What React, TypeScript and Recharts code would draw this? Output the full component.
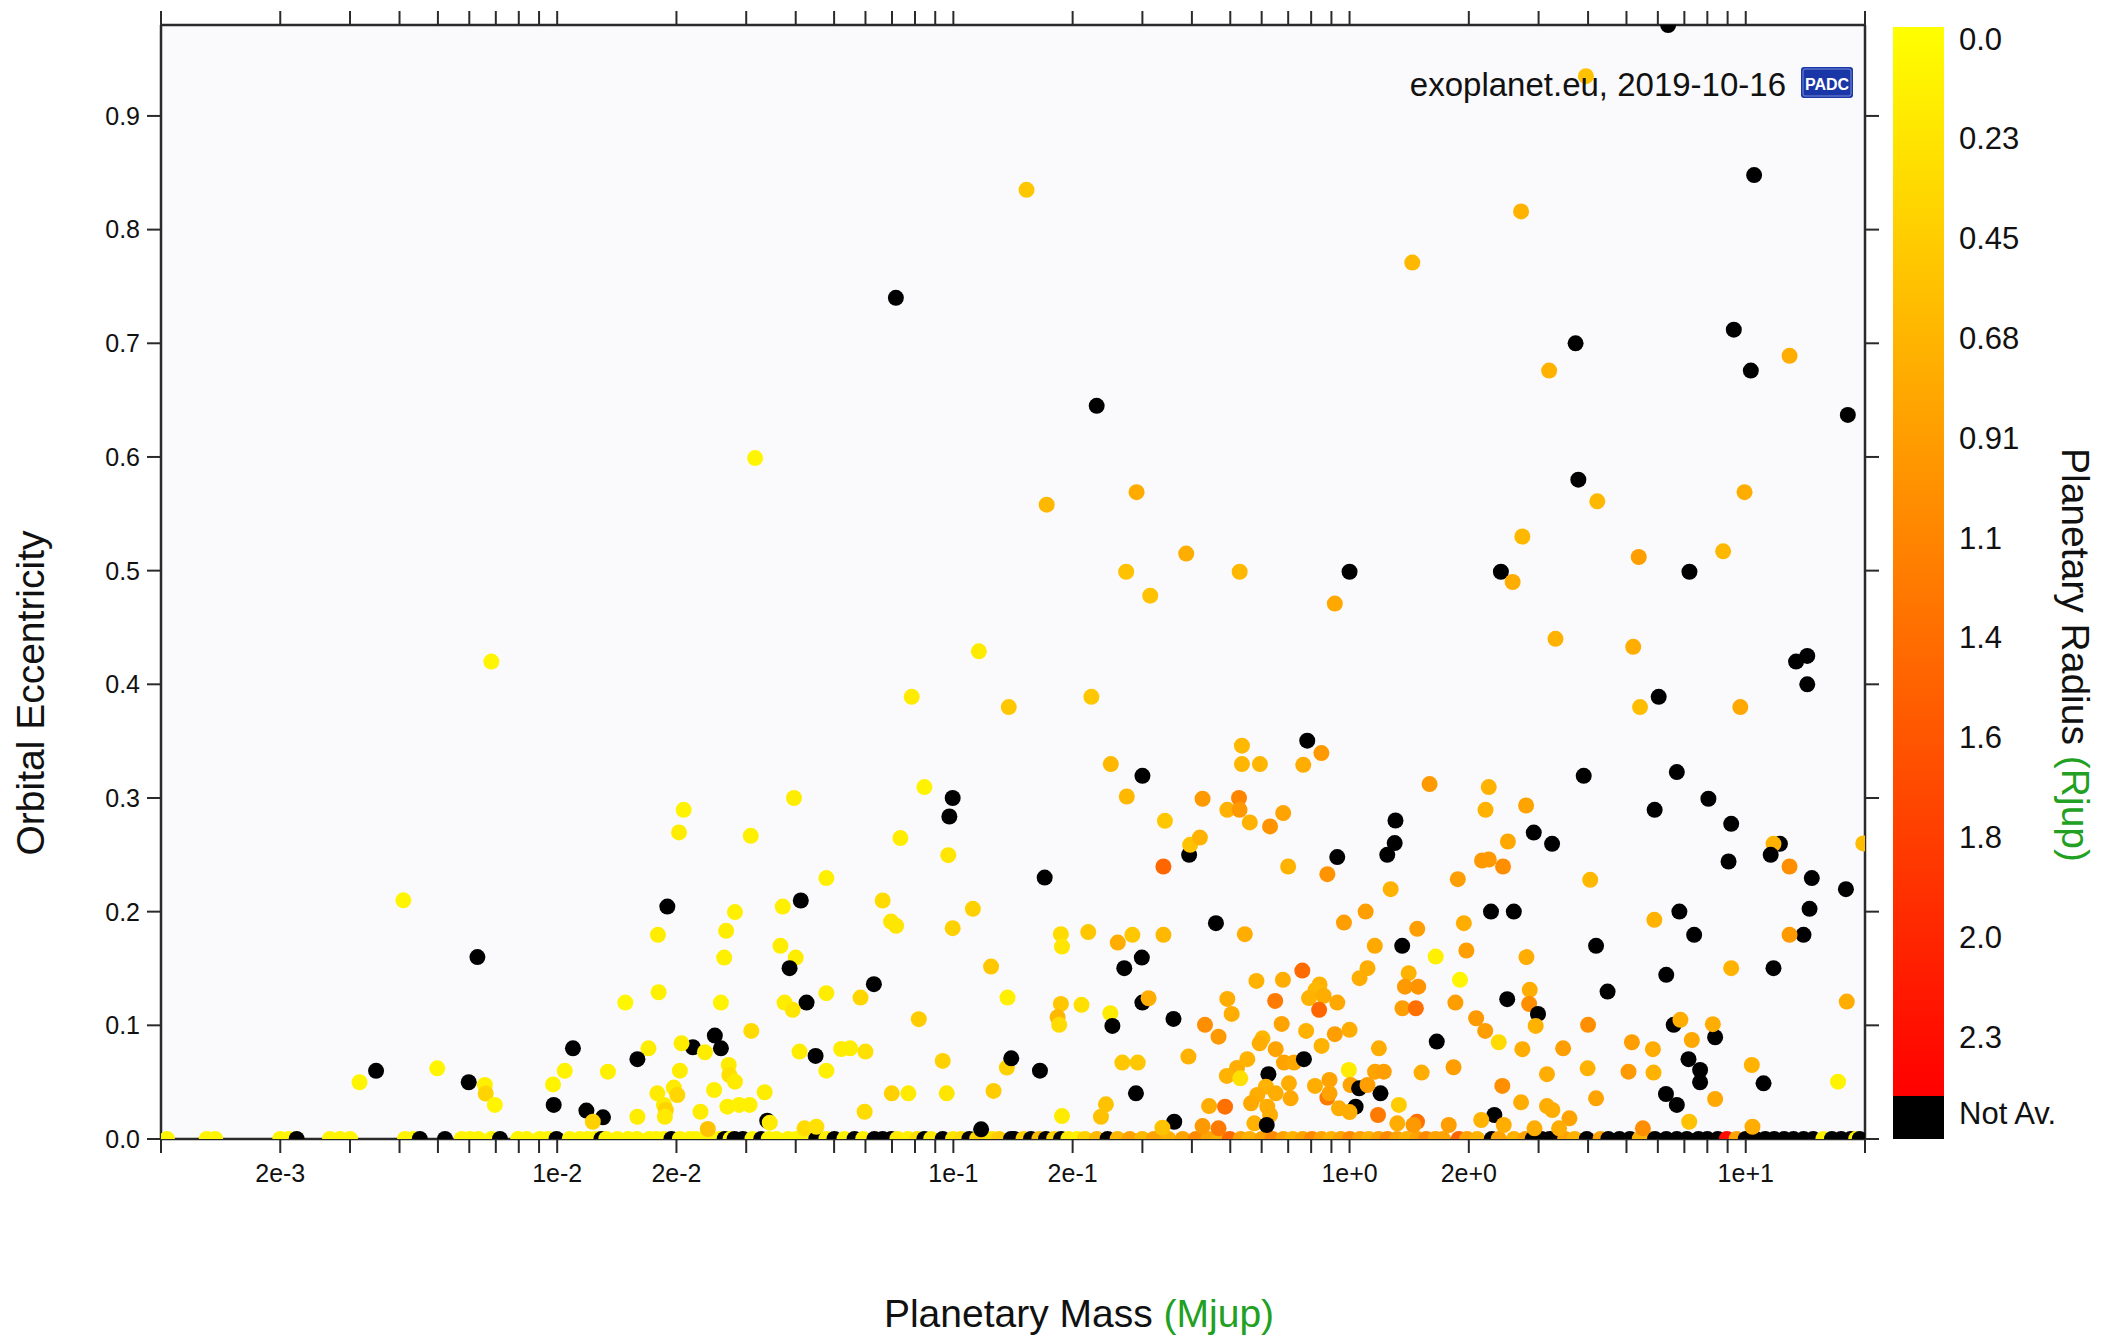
import React from 'react';
import { ScatterChart, Scatter, XAxis, YAxis, CartesianGrid } from 'recharts';

// Each planet: [mass (Mjup), orbital eccentricity, radius (Rjup) or null when not available]
type Planet = [number, number, number | null];

// Planets on circular orbits (e = 0): [mass, radius]
const circularOrbits: [number, number | null][] = [
  [0.001035, 0.1], [0.001305, 0.1], [0.00137, 0.1], [0.002, 0.1], [0.0021, 0.1], [0.0022, null],
  [0.00267, 0.1], [0.00283, 0.1], [0.003, 0.1], [0.00413, 0.1], [0.00433, 0.1], [0.0045, null],
  [0.00521, null], [0.00574, 0.1], [0.00602, 0.1], [0.00632, 0.1], [0.00683, 0.1], [0.00717, null],
  [0.00797, 0.1], [0.00837, 0.1], [0.00904, 0.1], [0.00949, 0.1], [0.00996, null], [0.01076, 0.1],
  [0.0114, 0.1], [0.01196, 0.1],
  [0.0125, 0.1], [0.01293, null], [0.0133, 0.12], [0.0142, 0.12], [0.0151, 0.1], [0.0159, 0.12],
  [0.0171, 0.1], [0.0178, 0.12], [0.0186, 0.1], [0.01942, null], [0.0204, 0.12], [0.0216, 0.1],
  [0.0224, 0.12], [0.0236, 0.1], [0.0244, 0.12], [0.0257, 0.1], [0.02646, null], [0.0274, 0.12],
  [0.02804, null], [0.02942, null], [0.0311, 0.1], [0.03274, null], [0.0342, 0.12], [0.0358, 0.1],
  [0.0383, 0.12], [0.0401, 0.1], [0.0419, 0.15], [0.04506, null], [0.0478, 0.12], [0.0501, null],
  [0.0531, 0.1], [0.0563, null], [0.0592, 0.15], [0.0632, null], [0.0663, null], [0.0697, null],
  [0.0722, 0.2], [0.0768, 0.15], [0.0811, 0.3], [0.0845, null], [0.0879, 0.2], [0.094, null],
  [0.0998, 0.25], [0.1046, 0.35], [0.1097, null], [0.1148, 0.4], [0.1183, 0.45], [0.1252, 0.3],
  [0.1304, 0.5], [0.1398, null],
  [0.1425, null], [0.1503, 0.45], [0.157, null], [0.1648, 0.7], [0.1713, null], [0.1796, 0.45],
  [0.187, null], [0.1951, 0.2], [0.2058, 0.15], [0.2149, 0.45], [0.2302, 0.7], [0.245, null],
  [0.2597, 0.7], [0.2788, 0.9], [0.2996, 0.7], [0.3207, 0.9], [0.3488, 0.75], [0.3791, 0.9],
  [0.4093, 1.15], [0.4402, 0.9], [0.4688, 0.75], [0.4985, 1.45], [0.5312, 0.9], [0.5596, 0.75],
  [0.6013, 0.9], [0.6388, 1.15], [0.6804, 0.9], [0.7192, 0.75], [0.7617, 0.9], [0.8034, 1.15],
  [0.8491, 0.9], [0.8987, 0.75], [0.9508, 0.9], [1.002, 1.15], [1.063, 0.9], [1.118, 0.75],
  [1.184, 0.9], [1.247, 1.15], [1.318, 0.9], [1.396, 0.75], [1.483, 0.9], [1.561, 1.15], [1.648, 0.9],
  [1.72, 0.9], [1.887, 1.5], [1.98, 0.9], [2.1, 0.75], [2.286, null], [2.38, 0.9], [2.6, 0.75],
  [2.78, 0.9], [2.9, null], [3.05, null], [3.2, null], [3.4, null], [3.5, 0.9], [3.7, 0.75],
  [3.97, null], [4.3, 0.9], [4.5, null], [4.8, null], [5.1, null], [5.4, 0.75], [5.7, 0.75],
  [5.9, null], [6.3, null], [6.7, null], [7.1, null], [7.6, null], [8.0, null], [8.5, null],
  [8.96, 2.4], [9.48, 0.9], [10.0, null], [10.6, null], [11.2, null], [11.8, null], [12.5, null],
  [13.2, null], [14.0, null], [14.8, null], [15.7, 0.15], [16.5, null], [17.4, null], [18.4, null],
  [19.0, 0.15], [19.4, null],
];

// Low-mass planets (below ~0.14 Mjup) on eccentric orbits
const lowMassPlanets: Planet[] = [
  [0.00409, 0.21, 0.1], [0.00629, 0.16, null], [0.01096, 0.0798, null], [0.00317, 0.0499, 0.1],
  [0.00349, 0.06, null], [0.00498, 0.0622, 0.1], [0.00598, 0.0499, null], [0.00657, 0.0475, 0.15],
  [0.0066, 0.04, 0.42], [0.00696, 0.03, 0.1], [0.00976, 0.048, 0.12], [0.01045, 0.06, 0.12],
  [0.0098, 0.03, null], [0.01185, 0.025, null],
  [0.0845, 0.3096, 0.12], [0.0996, 0.3, null], [0.0977, 0.2837, null], [0.02086, 0.2896, 0.12],
  [0.0203, 0.2697, 0.18], [0.0396, 0.3, 0.18], [0.0308, 0.2667, 0.15], [0.0735, 0.2647, 0.18],
  [0.0971, 0.2497, 0.25], [0.0478, 0.2295, 0.15], [0.01897, 0.2045, null], [0.0412, 0.2098, null],
  [0.0371, 0.2045, 0.15], [0.0281, 0.1996, 0.15], [0.0267, 0.1831, 0.18], [0.01796, 0.1796, 0.18],
  [0.0264, 0.1596, 0.15], [0.0366, 0.1699, 0.18], [0.04, 0.1596, 0.18], [0.0386, 0.1503, null],
  [0.0663, 0.2098, 0.35], [0.0696, 0.1913, 0.25], [0.0717, 0.1875, 0.25], [0.112, 0.2025, 0.45],
  [0.0996, 0.1855, 0.45], [0.1245, 0.1517, 0.55], [0.137, 0.1244, 0.15], [0.063, 0.1362, null],
  [0.0583, 0.1244, 0.4], [0.0478, 0.1283, 0.18], [0.0426, 0.12, null], [0.0375, 0.12, 0.18],
  [0.0393, 0.1136, 0.25], [0.0818, 0.1054, 0.5], [0.01486, 0.12, 0.08], [0.01803, 0.1291, 0.15],
  [0.0259, 0.12, 0.12], [0.0309, 0.0951, 0.35], [0.025, 0.091, null], [0.0259, 0.0798, null],
  [0.022, 0.0807, null], [0.0206, 0.0842, 0.18], [0.0236, 0.0763, 0.18], [0.017, 0.0798, 0.18],
  [0.01594, 0.0702, null], [0.01343, 0.0592, 0.15], [0.0204, 0.0601, 0.18], [0.0271, 0.0651, 0.2],
  [0.0272, 0.0563, 0.3], [0.0281, 0.0504, 0.2], [0.0409, 0.0769, 0.18], [0.0449, 0.0731, null],
  [0.0478, 0.0601, 0.15], [0.0521, 0.0792, 0.18], [0.0549, 0.0798, 0.18], [0.06, 0.0769, 0.3],
  [0.094, 0.0687, 0.45], [0.1365, 0.0628, 0.45], [0.0179, 0.0402, 0.2], [0.0197, 0.0452, 0.2],
  [0.0201, 0.0387, 0.4], [0.0186, 0.03, 0.2], [0.0188, 0.0255, 0.42], [0.0187, 0.0196, 0.2],
  [0.0249, 0.0431, 0.15], [0.023, 0.024, 0.18], [0.01594, 0.0196, 0.18], [0.0334, 0.0411, 0.18],
  [0.0269, 0.0284, 0.15], [0.0288, 0.03, 0.15], [0.0306, 0.03, 0.15], [0.0339, 0.0161, null],
  [0.0344, 0.0144, 0.2], [0.024, 0.0088, 0.6], [0.01305, 0.0191, null], [0.0123, 0.0152, 0.45],
  [0.0699, 0.0402, 0.45], [0.077, 0.0402, 0.2], [0.0962, 0.0402, 0.25], [0.1263, 0.0423, 0.5],
  [0.0597, 0.024, 0.35], [0.0421, 0.0094, 0.35], [0.0451, 0.0108, 0.3], [0.1175, 0.0085, null],
  [0.14, 0.071, null],
];

// Saturn- to Jupiter-mass planets (~0.14 to 1.7 Mjup)
const giantPlanets: Planet[] = [
  [0.2497, 0.3298, 0.7], [0.3001, 0.3195, null], [0.274, 0.3013, 0.7], [0.342, 0.2799, 0.55],
  [0.4256, 0.2993, 1.0], [0.526, 0.3, 1.2], [0.4915, 0.2896, 0.75], [0.5276, 0.2896, 1.0],
  [0.56, 0.2785, 0.75], [0.63, 0.275, 1.05], [0.68, 0.2867, 0.9], [0.535, 0.346, 0.7],
  [0.535, 0.3298, 0.72], [0.594, 0.3298, 0.72], [0.782, 0.3504, null], [0.849, 0.3395, 1.0],
  [0.764, 0.3292, 0.8], [1.592, 0.3122, 1.0], [1.306, 0.2802, null], [1.3, 0.2603, null],
  [1.245, 0.25, null], [0.931, 0.248, null], [0.879, 0.233, 1.05], [0.7, 0.2397, 0.75],
  [0.17, 0.23, null], [0.3936, 0.25, null], [0.396, 0.2588, 0.6], [0.419, 0.2652, 0.75],
  [0.339, 0.2397, 1.5], [1.27, 0.2198, 0.75], [1.098, 0.2001, 0.95], [0.968, 0.1904, 0.95],
  [1.482, 0.1849, 0.95], [1.158, 0.1699, 0.85], [1.358, 0.1699, null], [0.46, 0.1899, null],
  [0.544, 0.1802, 0.8], [0.1868, 0.1802, 0.35], [0.188, 0.1693, 0.25], [0.219, 0.182, 0.55],
  [0.283, 0.1796, 0.55], [0.26, 0.1728, 0.8], [0.339, 0.1796, 0.7], [0.299, 0.1596, null],
  [0.27, 0.1503, null], [0.1868, 0.1188, 0.55], [0.1833, 0.1071, 0.7], [0.185, 0.1004, 0.35],
  [0.2106, 0.118, 0.3], [0.249, 0.1106, 0.2], [0.252, 0.0995, null], [0.3, 0.12, null],
  [0.311, 0.1238, 0.8], [0.3594, 0.1056, null], [0.1654, 0.0601, null], [0.267, 0.0672, 0.55],
  [0.292, 0.0672, 0.55], [0.289, 0.0402, null], [0.2427, 0.0305, 0.6], [0.2358, 0.0196, 0.6],
  [0.188, 0.0202, 0.2], [0.392, 0.0725, 0.75], [0.361, 0.0152, null], [0.337, 0.01, 0.6],
  [0.4316, 0.1004, 1.1], [0.467, 0.09, 1.0], [0.4915, 0.1232, 0.8], [0.504, 0.11, 0.8],
  [0.582, 0.1391, 0.75], [0.679, 0.14, 0.8], [0.76, 0.1482, 1.45], [0.84, 0.136, 0.75],
  [0.82, 0.131, 0.7], [0.86, 0.126, 0.8], [0.79, 0.124, 0.75], [0.649, 0.1215, 1.3],
  [0.838, 0.1136, 1.5], [0.931, 0.12, 0.85], [0.674, 0.1012, 0.9], [0.777, 0.0951, 0.75],
  [0.918, 0.0922, 0.95], [1.0, 0.096, 0.8], [0.85, 0.0819, 0.75], [0.603, 0.0886, 0.7],
  [0.593, 0.0842, 0.8], [0.651, 0.079, 0.9], [0.683, 0.0672, 0.9], [0.724, 0.0672, 0.85],
  [0.767, 0.0702, null], [0.52, 0.0625, 0.8], [0.49, 0.0555, 0.75], [0.53, 0.0534, 0.3],
  [0.552, 0.0702, 0.75], [0.624, 0.057, null], [0.615, 0.046, 0.75], [0.651, 0.0402, 0.8],
  [0.585, 0.0387, 0.8], [0.564, 0.0314, 0.85], [0.62, 0.0284, 0.8], [0.575, 0.0138, 0.75],
  [0.63, 0.0211, 0.8], [0.618, 0.0123, null], [0.442, 0.029, 0.8], [0.485, 0.0284, 1.4],
  [0.4256, 0.0114, 1.0], [0.467, 0.0094, 1.3], [0.703, 0.049, 0.8], [0.71, 0.0358, 0.85],
  [0.818, 0.0467, 0.8], [0.879, 0.0364, 1.3], [0.89, 0.0402, 0.9], [0.89, 0.052, 0.9],
  [0.996, 0.0607, 0.2], [1.006, 0.0475, 0.9], [1.057, 0.0446, null], [1.036, 0.0284, null],
  [1.197, 0.0402, null], [1.186, 0.0798, 0.8], [1.16, 0.0592, 0.9], [1.22, 0.0592, 0.95],
  [1.11, 0.0475, 0.95], [0.94, 0.027, 0.8], [1.0, 0.0237, 0.8], [1.18, 0.0211, 1.3],
  [1.332, 0.03, 0.5], [1.52, 0.0584, 0.8], [1.48, 0.0152, 1.4], [1.32, 0.0138, 0.8],
  [1.45, 0.0123, 1.0], [1.66, 0.0857, null], [1.65, 0.1605, 0.15], [1.41, 0.1459, 0.75],
  [1.38, 0.134, 1.0], [1.49, 0.134, 1.05], [1.36, 0.115, 0.95], [1.47, 0.115, 1.4],
  [1.11, 0.1503, 0.8], [1.06, 0.1415, 0.8],
];

// Super-Jupiters (above ~1.7 Mjup) at low and moderate eccentricity
const massivePlanets: Planet[] = [
  [2.246, 0.3096, 0.75], [2.204, 0.2896, 0.75], [2.79, 0.2934, 0.9], [3.9, 0.3195, null],
  [6.7, 0.3228, null], [5.89, 0.2896, null], [8.05, 0.2993, null], [9.19, 0.2773, null],
  [2.917, 0.2696, null], [3.245, 0.2597, null], [2.51, 0.2617, 0.85], [2.16, 0.245, 1.0],
  [2.246, 0.2459, 1.0], [2.44, 0.2397, 1.1], [1.876, 0.2286, 0.95], [4.05, 0.228, 0.7],
  [9.05, 0.2441, null], [12.2, 0.2597, null], [11.75, 0.2597, 0.75], [11.56, 0.25, null],
  [12.9, 0.2397, 1.1], [14.68, 0.2295, null], [17.9, 0.2198, null], [14.49, 0.2025, null],
  [13.99, 0.1796, null], [12.9, 0.1796, 1.0], [2.275, 0.2001, null], [2.598, 0.2001, null],
  [1.943, 0.1899, 0.8], [1.972, 0.1658, 0.95], [2.796, 0.16, 0.8], [5.88, 0.1928, 0.75],
  [6.8, 0.2001, null], [7.41, 0.1796, null], [4.19, 0.1699, null], [9.19, 0.1503, 0.75],
  [11.75, 0.1503, null], [6.3, 0.1444, null], [4.48, 0.1297, null], [1.9, 0.14, 0.1],
  [1.85, 0.12, 0.95], [2.5, 0.123, null], [2.85, 0.1312, 0.8], [2.84, 0.1188, 1.1],
  [2.99, 0.11, null], [2.95, 0.0995, 0.75], [2.087, 0.1062, 1.0], [2.2, 0.0951, 0.95],
  [2.38, 0.0851, 0.35], [2.73, 0.079, 0.8], [3.46, 0.0798, 0.95], [4.0, 0.1004, 1.1],
  [6.58, 0.1004, null], [6.84, 0.1048, 0.8], [8.37, 0.0895, null], [8.26, 0.101, 0.8],
  [7.31, 0.0871, 0.85], [5.16, 0.0851, 0.95], [5.83, 0.079, 0.8], [7.17, 0.0702, null],
  [7.67, 0.0607, null], [7.67, 0.0499, null], [5.85, 0.0584, 0.75], [5.06, 0.0592, 1.0],
  [3.99, 0.0622, 0.75], [3.15, 0.057, 0.8], [1.83, 0.0631, 0.95], [2.43, 0.0467, 1.1],
  [2.71, 0.0323, 0.8], [3.15, 0.029, 0.8], [3.25, 0.0255, 0.8], [3.59, 0.0182, 0.9],
  [4.19, 0.0358, 0.9], [6.29, 0.0396, null], [6.7, 0.03, null], [8.37, 0.0352, 0.85],
  [7.2, 0.0152, 0.6], [10.36, 0.0651, 0.75], [11.09, 0.049, null], [17.99, 0.1209, 0.8],
  [17.1, 0.0504, 0.12], [2.32, 0.0211, null], [2.15, 0.0167, 0.75], [1.78, 0.0123, 0.95],
  [2.45, 0.0123, 0.8], [2.93, 0.0094, 0.8], [3.38, 0.0094, 0.8], [5.5, 0.0094, 1.1],
  [10.4, 0.0108, 0.8],
];

// Highly eccentric orbits (e above ~0.38)
const eccentricPlanets: Planet[] = [
  [0.153, 0.835, 0.55], [0.0716, 0.74, null], [0.23, 0.645, null], [10.5, 0.848, null],
  [6.37, 0.98, null], [3.95, 0.935, 0.6], [2.71, 0.816, 0.75], [1.44, 0.771, 0.7],
  [3.72, 0.7, null], [3.19, 0.676, 0.75], [9.33, 0.712, null], [10.3, 0.676, null],
  [12.9, 0.689, 0.8], [18.1, 0.637, null], [0.0316, 0.599, 0.1], [0.172, 0.558, 0.7],
  [0.29, 0.569, 0.82], [0.273, 0.499, 0.6], [0.314, 0.478, 0.6], [0.387, 0.515, 0.8],
  [0.528, 0.499, 0.7], [0.918, 0.471, 0.85], [1.0, 0.499, null], [2.41, 0.499, null],
  [2.73, 0.53, 0.7], [2.58, 0.49, 0.8], [3.78, 0.58, null], [4.22, 0.561, 0.7],
  [9.93, 0.569, 0.8], [5.37, 0.512, 0.95], [7.21, 0.499, null], [8.77, 0.517, 0.7],
  [0.00682, 0.42, 0.1], [0.116, 0.429, 0.2], [0.138, 0.38, 0.55], [0.0785, 0.389, 0.2],
  [0.223, 0.389, 0.55], [3.31, 0.44, 0.75], [5.2, 0.433, 0.8], [5.41, 0.38, 0.65],
  [6.03, 0.389, null], [9.69, 0.38, 0.85], [13.4, 0.42, null], [14.3, 0.425, null],
  [14.3, 0.4, null], [19.8, 0.26, 0.65],
];

const massTicks = [
  0.001, 0.002, 0.003, 0.004, 0.005, 0.006, 0.007, 0.008, 0.009,
  0.01, 0.02, 0.03, 0.04, 0.05, 0.06, 0.07, 0.08, 0.09,
  0.1, 0.2, 0.3, 0.4, 0.5, 0.6, 0.7, 0.8, 0.9,
  1, 2, 3, 4, 5, 6, 7, 8, 9,
  10, 20,
];
const massTickLabels: [number, string][] = [
  [0.002, '2e-3'], [0.01, '1e-2'], [0.02, '2e-2'], [0.1, '1e-1'],
  [0.2, '2e-1'], [1, '1e+0'], [2, '2e+0'], [10, '1e+1'],
];
const eccentricityTicks = [0, 0.1, 0.2, 0.3, 0.4, 0.5, 0.6, 0.7, 0.8, 0.9];
const radiusScaleLabels = ['0.0', '0.23', '0.45', '0.68', '0.91', '1.1', '1.4', '1.6', '1.8', '2.0', '2.3'];
const RADIUS_MAX = 2.5;

const FONT = "'Liberation Sans', Arial, Helvetica, sans-serif";
const AXIS_COLOR = '#2a2a2a';
const TITLE_GREEN = '#22a022';

const toRows = (list: Planet[]) => list.map(([mass, ecc, radius]) => ({ mass, ecc, radius }));
const circularRows = circularOrbits.map(([mass, radius]) => ({ mass, ecc: 0, radius }));
const allRows = [
  ...circularRows,
  ...toRows(lowMassPlanets),
  ...toRows(giantPlanets),
  ...toRows(massivePlanets),
  ...toRows(eccentricPlanets),
];

// Yellow (small radius) to red (large radius); black when the radius is unknown
function radiusColor(r: number | null) {
  if (r === null || r === undefined) return '#000000';
  const t = Math.min(Math.max(r, 0), RADIUS_MAX) / RADIUS_MAX;
  const g = Math.round(255 * (1 - t));
  return `rgb(255,${g},0)`;
}

const PlanetDot = (props: any) => {
  const { cx, cy, payload } = props;
  if (cx == null || cy == null) return <g />;
  return <circle cx={cx} cy={cy} r={8} fill={radiusColor(payload.radius)} />;
};

const NoMark = () => <g />;

const formatMass = (v: number) => {
  const hit = massTickLabels.find(([val]) => Math.abs(val - v) / val < 1e-6);
  return hit ? hit[1] : '';
};

const tickStyle = { fontSize: 25, fill: '#111', fontFamily: FONT };
const axisLineStyle = { stroke: AXIS_COLOR, strokeWidth: 2.5 };
const tickLineStyle = { stroke: AXIS_COLOR, strokeWidth: 2 };

export default function App() {
  const barX = 1893;
  const barW = 51;
  const barTop = 27;
  const barBottom = 1096;
  const plotBottom = 1139;

  return (
    <div
      style={{
        position: 'absolute',
        left: 0,
        top: 0,
        width: 2101,
        height: 1337,
        background: '#ffffff',
        fontFamily: FONT,
        overflow: 'hidden',
      }}
    >
      <ScatterChart width={2101} height={1337} margin={{ top: 24, right: 235, bottom: 138, left: 101 }}>
        <CartesianGrid horizontal={false} vertical={false} fill="#fafafd" />
        <XAxis
          dataKey="mass"
          type="number"
          scale="log"
          domain={[0.001, 20]}
          allowDataOverflow
          ticks={massTicks}
          interval={0}
          tickFormatter={formatMass}
          height={60}
          tickSize={14}
          tickMargin={11}
          axisLine={axisLineStyle}
          tickLine={tickLineStyle}
          tick={tickStyle}
        />
        <XAxis
          xAxisId="top"
          dataKey="mass"
          orientation="top"
          type="number"
          scale="log"
          domain={[0.001, 20]}
          allowDataOverflow
          ticks={massTicks}
          interval={0}
          height={1}
          tickSize={14}
          axisLine={axisLineStyle}
          tickLine={tickLineStyle}
          tick={NoMark}
        />
        <YAxis
          dataKey="ecc"
          type="number"
          domain={[0, 0.98]}
          allowDataOverflow
          ticks={eccentricityTicks}
          interval={0}
          tickFormatter={(v: number) => v.toFixed(1)}
          width={60}
          tickSize={14}
          tickMargin={7}
          axisLine={axisLineStyle}
          tickLine={tickLineStyle}
          tick={tickStyle}
        />
        <YAxis
          yAxisId="right"
          dataKey="ecc"
          orientation="right"
          type="number"
          domain={[0, 0.98]}
          allowDataOverflow
          ticks={eccentricityTicks}
          interval={0}
          width={1}
          tickSize={14}
          axisLine={axisLineStyle}
          tickLine={tickLineStyle}
          tick={NoMark}
        />
        {/* the mirrored frame axes need a bound series; it draws nothing */}
        <Scatter
          xAxisId="top"
          yAxisId="right"
          data={allRows}
          shape={NoMark}
          isAnimationActive={false}
        />
        <Scatter data={circularRows} shape={PlanetDot} isAnimationActive={false} />
        <Scatter data={toRows(lowMassPlanets)} shape={PlanetDot} isAnimationActive={false} />
        <Scatter data={toRows(giantPlanets)} shape={PlanetDot} isAnimationActive={false} />
        <Scatter data={toRows(massivePlanets)} shape={PlanetDot} isAnimationActive={false} />
        <Scatter data={toRows(eccentricPlanets)} shape={PlanetDot} isAnimationActive={false} />
      </ScatterChart>

      <svg
        width={2101}
        height={1337}
        style={{ position: 'absolute', left: 0, top: 0, pointerEvents: 'none' }}
      >
        <defs>
          <linearGradient id="radiusGradient" x1="0" y1="0" x2="0" y2="1">
            <stop offset="0%" stopColor="#ffff00" />
            <stop offset="100%" stopColor="#ff0000" />
          </linearGradient>
        </defs>

        {/* source note and logo */}
        <text x={1786} y={96} textAnchor="end" fontSize={33} fill="#111" fontFamily={FONT}>
          exoplanet.eu, 2019-10-16
        </text>
        <rect x={1801} y={67} width={52} height={31} rx={3} fill="#1a37a8" />
        <rect x={1803} y={69} width={48} height={27} rx={2} fill="none" stroke="#8fa2e0" strokeWidth={0.8} />
        <text x={1827} y={90} textAnchor="middle" fontSize={16} fontWeight="bold" fill="#ffffff" fontFamily={FONT}>
          PADC
        </text>

        {/* colour bar */}
        <rect x={barX} y={barTop} width={barW} height={barBottom - barTop} fill="url(#radiusGradient)" />
        <rect x={barX} y={barBottom} width={barW} height={plotBottom - barBottom} fill="#000000" />
        {radiusScaleLabels.map((label, i) => (
          <text
            key={label}
            x={1959}
            y={39 + i * 99.8}
            dominantBaseline="central"
            fontSize={31}
            fill="#111"
            fontFamily={FONT}
          >
            {label}
          </text>
        ))}
        <text x={1959} y={1113} dominantBaseline="central" fontSize={31} fill="#111" fontFamily={FONT}>
          Not Av.
        </text>

        {/* axis titles */}
        <text
          x={1079}
          y={1327}
          textAnchor="middle"
          fontSize={39}
          fill="#111"
          fontFamily={FONT}
        >
          Planetary Mass <tspan fill={TITLE_GREEN}>(Mjup)</tspan>
        </text>
        <text
          transform="translate(44,693) rotate(-90)"
          textAnchor="middle"
          fontSize={39}
          fill="#111"
          fontFamily={FONT}
        >
          Orbital Eccentricity
        </text>
        <text
          transform="translate(2062,655) rotate(90)"
          textAnchor="middle"
          fontSize={39}
          fill="#111"
          fontFamily={FONT}
        >
          Planetary Radius <tspan fill={TITLE_GREEN}>(Rjup)</tspan>
        </text>
      </svg>
    </div>
  );
}
